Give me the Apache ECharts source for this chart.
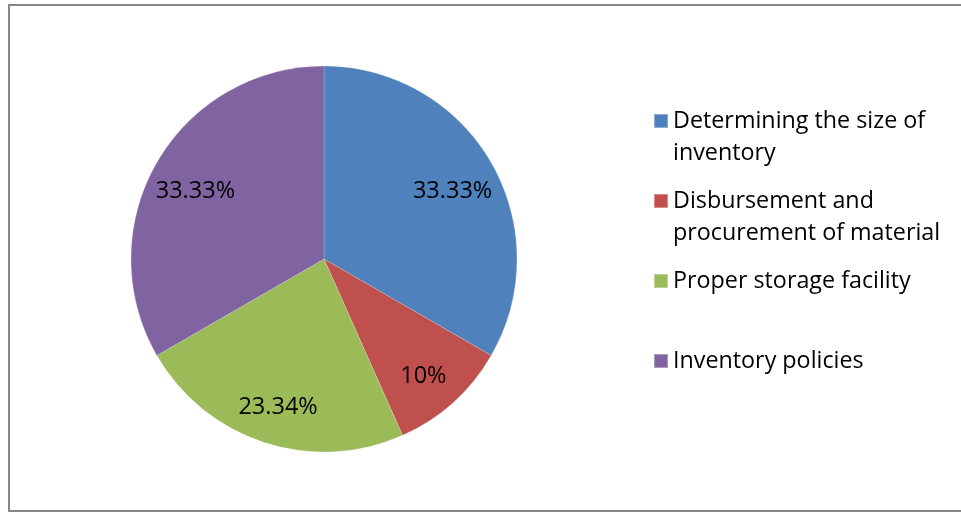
<!DOCTYPE html>
<html>
<head>
<meta charset="utf-8">
<title>Inventory management factors</title>
<script src="https://cdn.jsdelivr.net/npm/echarts@6/dist/echarts.min.js"></script>
<style>
  html, body { margin: 0; padding: 0; background: #ffffff; }
  #chart { width: 961px; height: 512px; }
</style>
</head>
<body>
<div id="chart"></div>
<script>
// Share of respondents per inventory-management factor (percent)
const categories = [
  'Determining the size of inventory',
  'Disbursement and procurement of material',
  'Proper storage facility',
  'Inventory policies'
];
const shares = [33.33, 10, 23.34, 33.33];
const valueLabels = ['33.33%', '10%', '23.34%', '33.33%'];
// Legend text as it wraps in the key
const legendText = [
  'Determining the size of\ninventory',
  'Disbursement and\nprocurement of material',
  'Proper storage facility',
  'Inventory policies'
];
const colors = ['#4F81BD', '#C0504D', '#9BBB59', '#8064A2'];

const FONT = '"Open Sans", "Liberation Sans", sans-serif';
const pieCenter = [324, 259];
const pieRadius = 193;

const sliceData = categories.map((name, i) => ({
  name: name,
  value: shares[i],
  itemStyle: { color: colors[i] }
}));

const labelData = categories.map((name, i) => ({
  name: name,
  value: shares[i],
  label: { formatter: valueLabels[i] }
}));

// One key entry per factor, stacked on the right.
// Wrapped entries get a leading blank line so the swatch sits beside the first line.
const legendTops = [73, 153, 265, 345];
const legends = categories.map((name, i) => {
  const twoLines = legendText[i].indexOf('\n') >= 0;
  return {
    data: [name],
    orient: 'vertical',
    left: 653,
    top: legendTops[i],
    padding: 0,
    itemWidth: 14,
    itemHeight: 14,
    icon: 'rect',
    selectedMode: false,
    formatter: () => (twoLines ? '\n' : '') + legendText[i],
    textStyle: {
      fontFamily: FONT,
      fontSize: 23.3,
      lineHeight: 32,
      color: '#000000'
    }
  };
});

const chart = echarts.init(document.getElementById('chart'), null, { renderer: 'canvas' });
chart.setOption({
  backgroundColor: '#ffffff',
  animation: false,
  graphic: [{
    type: 'rect',
    shape: { x: 9, y: 5, width: 960, height: 506 },
    style: { fill: 'none', stroke: '#878787', lineWidth: 2 },
    silent: true
  }],
  legend: legends,
  series: [
    {
      type: 'pie',
      center: pieCenter,
      radius: [0, pieRadius],
      startAngle: 90,
      clockwise: true,
      label: { show: false },
      labelLine: { show: false },
      emphasis: { disabled: true },
      itemStyle: { borderColor: 'rgba(255,255,255,0.35)', borderWidth: 0.5 },
      data: sliceData
    },
    {
      // value labels placed well out toward the rim of each slice
      type: 'pie',
      center: pieCenter,
      radius: [98, pieRadius],
      startAngle: 90,
      clockwise: true,
      silent: true,
      itemStyle: { color: 'rgba(0,0,0,0)' },
      label: {
        show: true,
        position: 'inside',
        fontFamily: FONT,
        fontSize: 23.5,
        color: '#000000'
      },
      labelLayout: { dy: 7 },
      labelLine: { show: false },
      emphasis: { disabled: true },
      data: labelData
    }
  ]
});
</script>
</body>
</html>
